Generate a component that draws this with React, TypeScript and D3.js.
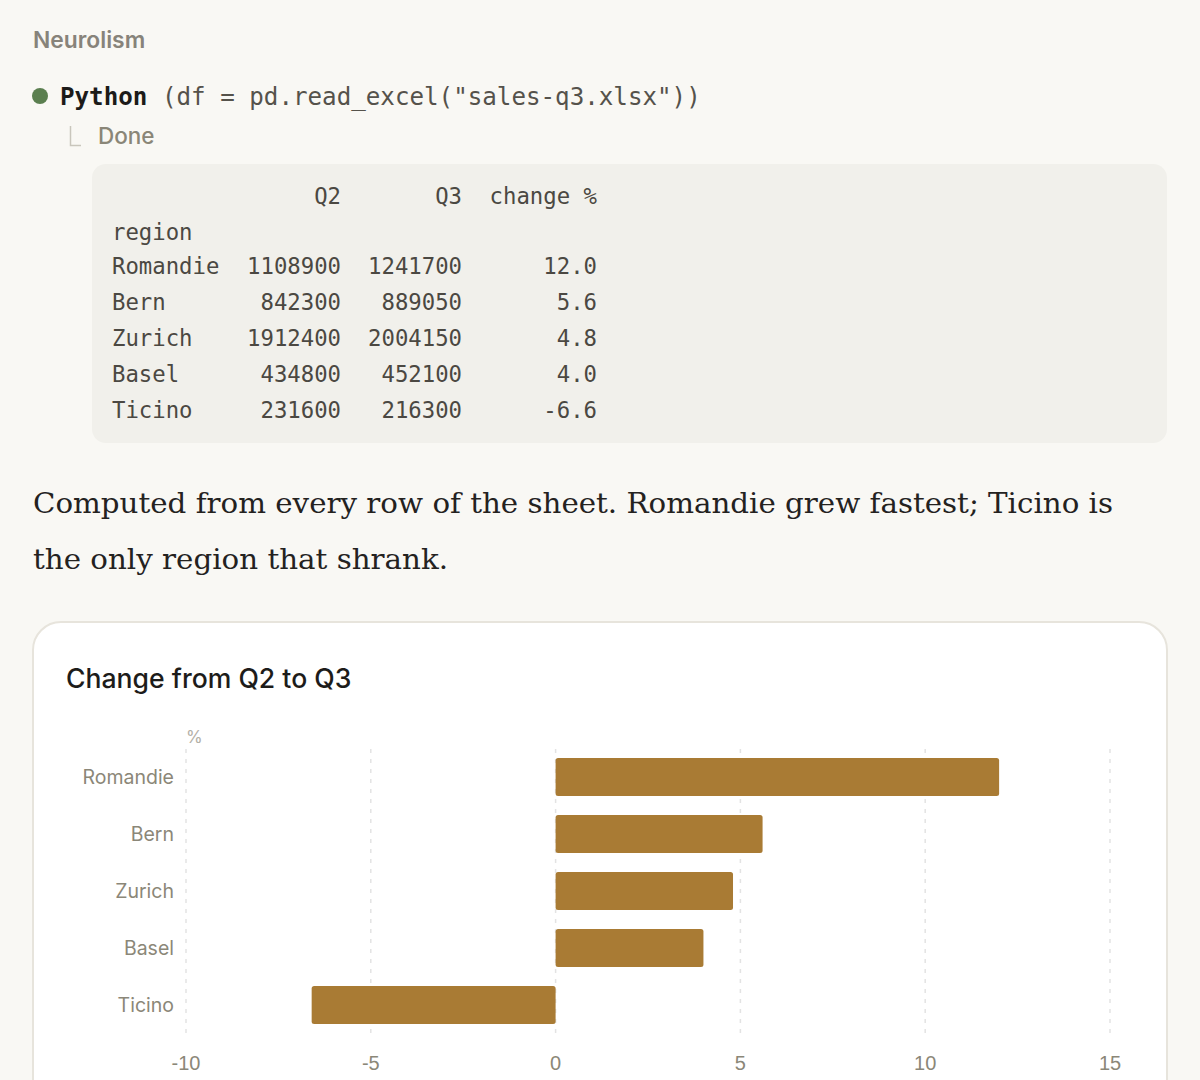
import React from "react";
import * as d3 from "d3";

const regions = ["Romandie", "Bern", "Zurich", "Basel", "Ticino"];
const q2Values = [1108900, 842300, 1912400, 434800, 231600];
const q3Values = [1241700, 889050, 2004150, 452100, 216300];
const changePct = [12.0, 5.6, 4.8, 4.0, -6.6];
const xTicks = [-10, -5, 0, 5, 10, 15];
const tableHeaders = ["Q2", "Q3", "change %"];

const W = 1200;
const H = 1080;

export default function App() {
  const x = d3.scaleLinear().domain([-10, 15]).range([186, 1110]);
  const y = d3
    .scaleBand<string>()
    .domain(regions)
    .range([748.5, 1033.5])
    .paddingInner(1 / 3)
    .paddingOuter(1 / 6);

  const mono = "'DejaVu Sans Mono', 'Liberation Mono', monospace";
  const sans = "Inter, 'Noto Sans', sans-serif";
  const tableRowY = (i: number) => 274 + i * 36;

  return (
    <div style={{ position: "absolute", left: 0, top: 0, width: W, height: H }}>
      <svg width={W} height={H} viewBox={`0 0 ${W} ${H}`} style={{ display: "block" }}>
        <rect x={0} y={0} width={W} height={H} fill="#f9f8f4" />

        {/* Header */}
        <text x={33} y={48} fontFamily={sans} fontSize={22.8} fontWeight={600} fill="#87837a">
          Neurolism
        </text>

        {/* Tool call line */}
        <circle cx={40} cy={96} r={8} fill="#5b7f4f" />
        <text x={60} y={105} fontFamily={mono} fontSize={24.2} fill="#55524b" style={{ whiteSpace: "pre" }}>
          <tspan fontWeight={700} fill="#1c1b19">Python</tspan>
          <tspan>{' (df = pd.read_excel("sales-q3.xlsx"))'}</tspan>
        </text>
        <path d="M70.5,126 V145.5 H81" fill="none" stroke="#c9c6bc" strokeWidth={1.5} />
        <text x={98} y={144} fontFamily={sans} fontSize={22.5} fontWeight={500} fill="#8a8677">
          Done
        </text>

        {/* Table */}
        <rect x={92} y={164} width={1075} height={279} rx={14} fill="#f1f0eb" />
        <g fontFamily={mono} fontSize={22.3} fill="#4b4842">
          <text x={341} y={204} textAnchor="end">{tableHeaders[0]}</text>
          <text x={462} y={204} textAnchor="end">{tableHeaders[1]}</text>
          <text x={597} y={204} textAnchor="end" style={{ whiteSpace: "pre" }}>{tableHeaders[2]}</text>
          <text x={112} y={240}>region</text>
          {regions.map((r, i) => (
            <g key={r}>
              <text x={112} y={tableRowY(i)}>{r}</text>
              <text x={341} y={tableRowY(i)} textAnchor="end">{q2Values[i]}</text>
              <text x={462} y={tableRowY(i)} textAnchor="end">{q3Values[i]}</text>
              <text x={597} y={tableRowY(i)} textAnchor="end">{changePct[i].toFixed(1)}</text>
            </g>
          ))}
        </g>

        {/* Paragraph */}
        <g fontFamily="'DejaVu Serif', 'Liberation Serif', serif" fontSize={28.5} fill="#24221f">
          <text x={33} y={513} textLength={1080} lengthAdjust="spacingAndGlyphs">
            Computed from every row of the sheet. Romandie grew fastest; Ticino is
          </text>
          <text x={33} y={569} textLength={415} lengthAdjust="spacingAndGlyphs">
            the only region that shrank.
          </text>
        </g>

        {/* Card */}
        <rect x={33} y={622} width={1134} height={520} rx={28} fill="#ffffff" stroke="#e7e4dc" strokeWidth={2} />
        <text x={66} y={688} fontFamily={sans} fontSize={26.6} fontWeight={500} fill="#1d1c1a">
          Change from Q2 to Q3
        </text>

        {/* Gridlines */}
        {xTicks.map((t) => (
          <line
            key={t}
            x1={x(t)}
            x2={x(t)}
            y1={749}
            y2={1034}
            stroke="#e3e3e3"
            strokeWidth={1.5}
            strokeDasharray="4,6"
          />
        ))}

        <text x={186} y={743} fontFamily={sans} fontSize={17} fill="#b3b0a6">%</text>

        {/* Bars */}
        {regions.map((r, i) => {
          const v = changePct[i];
          const x0 = x(Math.min(0, v));
          const x1 = x(Math.max(0, v));
          return (
            <rect
              key={r}
              x={x0}
              y={y(r)}
              width={x1 - x0}
              height={y.bandwidth()}
              rx={2.5}
              fill="#a97b34"
            />
          );
        })}

        {/* Y labels */}
        {regions.map((r) => (
          <text
            key={r}
            x={174}
            y={(y(r) as number) + y.bandwidth() / 2}
            dy="0.35em"
            textAnchor="end"
            fontFamily={sans}
            fontSize={19.5}
            fill="#8b8778"
          >
            {r}
          </text>
        ))}

        {/* X tick labels */}
        {xTicks.map((t) => (
          <text
            key={t}
            x={x(t)}
            y={1070}
            textAnchor="middle"
            fontFamily="'Liberation Sans', Arial, sans-serif"
            fontSize={20}
            fill="#8b8778"
          >
            {t}
          </text>
        ))}
      </svg>
    </div>
  );
}
